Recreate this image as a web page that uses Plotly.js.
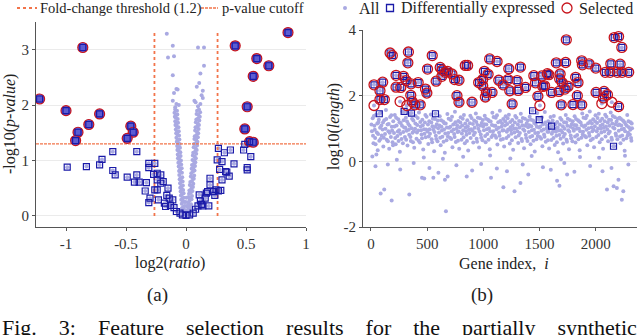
<!DOCTYPE html>
<html>
<head>
<meta charset="utf-8">
<script src="https://cdn.plot.ly/plotly-3.0.1.min.js"></script>
<style>
  html, body { margin: 0; padding: 0; background: #fff; }
  #chart { width: 640px; height: 335px; }
</style>
</head>
<body>
<div id="chart"></div>
<script>
/* global Plotly */

// ---- panel (a): volcano plot, [log2(ratio), -log10(p)] ----
const volcanoAll = [
  [-0.004,0.03],[0.006,0.02],[0.012,0.05],[-0.012,0.06],
  [-0.008,0.10],[-0.018,0.12],[0.010,0.09],[0.020,0.13],
  [-0.012,0.18],[-0.024,0.16],[0.014,0.17],[0.026,0.20],
  [-0.015,0.25],[-0.027,0.27],[0.018,0.24],[0.030,0.28],
  [-0.019,0.33],[-0.031,0.31],[0.022,0.34],[0.035,0.32],
  [-0.020,0.41],[-0.034,0.39],[0.025,0.40],[0.040,0.42],
  [-0.024,0.47],[-0.036,0.49],[0.028,0.46],[0.044,0.49],
  [-0.026,0.55],[-0.040,0.53],[0.032,0.56],[0.047,0.54],
  [-0.028,0.62],[-0.042,0.64],[0.036,0.61],[0.050,0.63],
  [-0.031,0.70],[-0.045,0.68],[0.040,0.71],[0.055,0.69],
  [-0.034,0.78],[-0.048,0.80],[0.044,0.77],[0.058,0.80],
  [-0.036,0.86],[-0.050,0.84],[0.047,0.85],[0.062,0.87],
  [-0.040,0.93],[-0.053,0.95],[0.050,0.92],[0.066,0.94],
  [-0.042,1.00],[-0.056,1.02],[0.054,1.01],[0.068,0.99],
  [-0.045,1.08],[-0.059,1.07],[0.057,1.09],[0.072,1.07],
  [-0.047,1.15],[-0.062,1.17],[0.060,1.14],[0.075,1.16],
  [-0.050,1.23],[-0.064,1.22],[0.064,1.24],[0.079,1.22],
  [-0.052,1.30],[-0.067,1.32],[0.067,1.30],[0.082,1.31],
  [-0.055,1.38],[-0.070,1.37],[0.070,1.39],[0.085,1.37],
  [-0.058,1.45],[-0.072,1.47],[0.073,1.44],[0.088,1.46],
  [-0.060,1.53],[-0.075,1.52],[0.076,1.54],[0.091,1.52],
  [-0.063,1.60],[-0.078,1.62],[0.079,1.60],[0.094,1.61],
  [-0.066,1.68],[-0.080,1.67],[0.082,1.69],[0.097,1.67],
  [-0.069,1.75],[-0.084,1.77],[0.086,1.74],[0.100,1.76],
  [-0.072,1.83],[-0.086,1.82],[0.088,1.84],[0.104,1.82],
  [-0.075,1.90],[-0.090,1.92],[0.092,1.90],[0.108,1.92],
  [-0.16,3.29],[-0.11,3.07],[-0.15,2.86],[-0.10,2.88],[0.10,3.04],[0.15,3.04],
  [0.15,2.71],[0.12,2.57],[-0.11,2.54],[0.11,2.40],[0.09,2.33],[0.14,2.26],
  [-0.08,2.29],[-0.07,2.28],[0.14,2.13],[0.07,2.08],[-0.11,2.08],[-0.08,2.02],
  [-0.06,2.00],[0.10,1.98],[0.12,2.02],[-0.09,1.96],[0.08,2.05],[-0.10,2.22],[0.13,2.18]
];
const volcanoAllOuter = [
  [-0.030,0.07],[0.032,0.08],[-0.034,0.14],[0.038,0.15],[-0.036,0.22],[0.042,0.21],
  [-0.040,0.29],[0.046,0.30],[-0.042,0.37],[0.050,0.36],[-0.045,0.44],[0.054,0.45],
  [-0.048,0.51],[0.058,0.52],[-0.050,0.59],[0.061,0.58],[-0.053,0.66],[0.065,0.67],
  [-0.056,0.74],[0.068,0.73],[-0.058,0.81],[0.071,0.82],[-0.061,0.89],[0.075,0.90],
  [-0.064,0.96],[0.078,0.97],[-0.067,1.04],[0.082,1.04],[-0.069,1.11],[0.085,1.12],
  [-0.072,1.19],[0.089,1.19],[-0.074,1.26],[0.092,1.27],[-0.077,1.34],[0.095,1.34],
  [-0.080,1.41],[0.099,1.42],[-0.082,1.49],[0.102,1.49],[-0.085,1.56],[0.105,1.57],
  [-0.088,1.64],[0.108,1.64],[-0.090,1.71],[0.111,1.72],[-0.093,1.79],[0.115,1.79],
  [-0.096,1.86],[0.118,1.87],
  [0.000,0.10],[0.005,0.18],[-0.002,0.25],[0.004,0.33],[0.000,0.06]
];
const volcanoDiff = [
  [-0.61,1.16],[-0.41,1.16],[-0.70,1.02],[-0.99,0.88],[-0.83,0.89],[-0.72,0.92],
  [-0.61,0.82],[-0.59,0.74],[-0.49,0.70],[-0.41,0.74],[-0.43,0.61],[-0.39,0.61],
  [-0.33,0.60],[-0.34,0.45],[-0.31,0.95],[-0.31,0.87],[-0.30,0.32],[-0.31,0.24],
  [-0.27,0.75],[-0.26,0.47],
  [-0.26,0.95],[-0.24,0.77],[-0.24,0.65],[-0.21,0.59],[-0.24,0.47],[-0.23,0.29],
  [-0.21,0.74],[-0.19,0.62],[-0.18,0.23],[-0.17,0.17],[-0.15,0.50],[-0.16,0.37],
  [-0.14,0.32],[-0.11,0.29],[-0.13,0.19],[-0.10,0.15],[-0.08,0.08],[-0.05,0.05],
  [-0.03,0.02],[0.00,0.01],[0.03,0.02],[0.06,0.05],[0.08,0.12],[0.10,0.18],
  [0.12,0.27],[0.11,0.38],[0.13,0.21],[0.14,0.18],[0.16,0.32],[0.17,0.41],
  [0.18,0.44],[0.20,0.56],[0.20,0.68],[0.23,0.44],[0.24,0.37],[0.19,0.18],[0.25,0.47],
  [0.27,1.22],[0.26,1.01],[0.28,0.84],[0.30,0.98],[0.30,0.65],[0.32,1.14],
  [0.33,0.80],[0.34,0.79],[0.36,0.72],[0.37,1.19],[0.40,0.94],[0.48,1.19],
  [0.49,1.29],[0.51,0.83],[0.51,0.87],[0.54,1.07],[0.27,0.45],[0.29,0.46]
];
const volcanoSelected = [
  [-1.22,2.11],[-0.86,3.04],[-1.00,1.90],[-0.72,1.84],[-0.81,1.65],[-0.90,1.51],
  [-0.92,1.36],[-0.46,1.62],[-0.44,1.51],[-0.49,1.40],[0.85,3.31],[0.41,3.07],
  [0.59,2.84],[0.69,2.71],[0.56,2.52],[0.51,1.97],[0.49,1.57],[0.53,1.34],[0.56,1.33]
];
const foldThreshold = 0.263;   // log2(1.2)
const pCutoff = 1.301;         // -log10(0.05)
const pRange = [0, 3.31];

// ---- panel (b): gene index vs log10(length) ----
const lengthAll = [
  [8,0.92],[15,1.31],[22,0.55],[30,1.08],[37,0.71],[45,1.42],[52,0.88],[60,0.34],[66,1.19],[74,0.63],[81,1.02],[88,1.48],[95,0.79],[12,0.15],[48,0.21],
  [103,0.97],[110,0.45],[118,1.25],[125,0.83],[133,1.56],[140,0.66],[147,1.12],[155,0.92],[162,0.38],[170,1.35],[177,0.74],[185,1.05],[192,0.58],[198,1.22],
  [205,0.86],[212,1.41],[220,0.52],[228,1.09],[235,0.77],[243,1.28],[250,0.95],[257,0.29],[265,1.17],[272,0.68],[280,1.52],[287,0.89],[295,1.03],[230,0.05],
  [302,0.74],[310,1.33],[317,0.93],[325,0.48],[332,1.14],[340,0.81],[347,1.46],[355,0.62],[362,1.01],[370,0.87],[377,1.24],[385,0.41],[392,0.99],[398,1.38],
  [405,0.69],[412,1.11],[420,0.94],[427,1.49],[435,0.57],[442,1.06],[450,0.82],[457,1.27],[465,0.36],[472,0.98],[480,1.18],[487,0.73],[495,1.36],[470,0.12],
  [503,0.91],[510,0.53],[518,1.22],[525,0.84],[533,1.43],[540,0.67],[547,1.07],[555,0.96],[562,0.31],[570,1.29],[577,0.78],[585,1.13],[592,0.61],[598,1.01],
  [605,0.88],[612,1.37],[620,0.49],[627,1.05],[635,0.75],[642,1.21],[650,0.97],[657,0.26],[665,1.15],[672,0.64],[680,1.44],[687,0.86],[695,1.02],[640,0.08],
  [703,0.72],[710,1.26],[717,0.92],[725,0.43],[732,1.12],[740,0.83],[747,1.51],[755,0.59],[762,0.99],[770,0.89],[777,1.23],[785,0.38],[792,1.04],[798,1.34],
  [805,0.66],[812,1.09],[820,0.95],[827,1.41],[835,0.55],[842,1.03],[850,0.81],[857,1.25],[865,0.33],[872,0.97],[880,1.16],[887,0.71],[895,1.32],[820,0.14],
  [903,0.93],[910,0.57],[918,1.24],[925,0.87],[933,1.46],[940,0.69],[947,1.11],[955,0.99],[962,0.42],[970,1.31],[977,0.82],[985,1.17],[992,0.64],[998,1.06],
  [1005,0.95],[1012,1.39],[1020,0.58],[1027,1.12],[1035,0.83],[1042,1.27],[1050,1.01],[1057,0.37],[1065,1.21],[1072,0.74],[1080,1.48],[1087,0.92],[1095,1.08],[1060,0.18],
  [1103,0.79],[1110,1.33],[1117,0.98],[1125,0.51],[1132,1.19],[1140,0.88],[1147,1.54],[1155,0.66],[1162,1.05],[1170,0.94],[1177,1.29],[1185,0.45],[1192,1.09],[1198,1.37],
  [1205,0.71],[1212,1.14],[1220,0.97],[1227,1.42],[1235,0.54],[1242,1.04],[1250,0.84],[1257,1.26],[1265,0.35],[1272,0.99],[1280,1.18],[1287,0.73],[1295,1.33],[1240,0.09],
  [1303,0.92],[1310,0.56],[1318,1.23],[1325,0.86],[1333,1.45],[1340,0.68],[1347,1.10],[1355,0.98],[1362,0.40],[1370,1.30],[1377,0.81],[1385,1.16],[1392,0.62],[1398,1.04],
  [1405,0.89],[1412,1.36],[1420,0.52],[1427,1.07],[1435,0.77],[1442,1.24],[1450,0.96],[1457,0.30],[1465,1.14],[1472,0.67],[1480,1.47],[1487,0.87],[1495,1.03],[1430,0.16],
  [1503,0.74],[1510,1.28],[1517,0.93],[1525,0.46],[1532,1.13],[1540,0.82],[1547,1.50],[1555,0.60],[1562,1.00],[1570,0.90],[1577,1.22],[1585,0.39],[1592,1.02],[1598,1.35],
  [1605,0.65],[1612,1.06],[1620,0.91],[1627,1.38],[1635,0.50],[1642,0.99],[1650,0.78],[1657,1.20],[1665,0.28],[1672,0.94],[1680,1.12],[1687,0.69],[1695,1.27],[1690,0.06],
  [1703,0.88],[1710,0.54],[1718,1.19],[1725,0.83],[1733,1.41],[1740,0.66],[1747,1.08],[1755,0.95],[1762,0.37],[1770,1.26],[1777,0.79],[1785,1.13],[1792,0.61],[1798,1.01],
  [1805,0.93],[1812,1.37],[1820,0.57],[1827,1.10],[1835,0.80],[1842,1.25],[1850,1.00],[1857,0.34],[1865,1.18],[1872,0.72],[1880,1.46],[1887,0.90],[1895,1.05],[1860,0.13],
  [1903,0.77],[1910,1.31],[1917,0.96],[1925,0.49],[1932,1.16],[1940,0.86],[1947,1.52],[1955,0.64],[1962,1.03],[1970,0.92],[1977,1.28],[1985,0.43],[1992,1.07],[1998,1.40],
  [2005,0.74],[2012,1.17],[2020,1.00],[2027,1.45],[2035,0.58],[2042,1.08],[2050,0.88],[2057,1.30],[2065,0.38],[2072,1.02],[2080,1.22],[2087,0.76],[2095,1.36],[2030,0.11],
  [2103,0.97],[2110,0.61],[2118,1.27],[2125,0.90],[2133,1.49],[2140,0.72],[2147,1.15],[2155,1.03],[2162,0.46],[2170,1.34],[2177,0.85],[2185,1.21],[2192,0.67],[2198,1.10],
  [2205,0.93],[2212,1.33],[2220,0.55],[2227,1.09],[2235,0.79],[2242,1.24],[2250,0.99],[2257,0.32],[2265,1.14],[2272,0.70],[2280,1.41],[2287,0.87],[2295,1.04],[2260,0.17],
  [2303,0.82],[2310,1.19],[2317,0.63],[2323,1.01],
  [86,-0.98],[118,-0.86],[184,-1.19],[341,-1.01],[667,-1.52],[454,-0.50],[474,-0.52],[555,-0.50],
  [658,-0.56],[682,-0.46],[1178,-0.79],[1277,-0.91],[1330,-0.66],[1068,-0.50],[1677,-0.74],[1656,-0.59],
  [1745,-0.40],[2100,-0.86],[2159,-0.76],[2188,-0.81],[2232,-1.17],[2245,-0.91],[2202,-0.56],[852,-0.46],
  [40,-0.15],[150,-0.10],[260,-0.25],[380,-0.05],[520,-0.20],[600,-0.35],[760,-0.12],[900,-0.28],
  [980,-0.08],[1120,-0.22],[1210,-0.30],[1350,-0.10],[1400,-0.40],[1530,-0.18],[1600,-0.26],[1720,-0.05],
  [1810,-0.32],[1950,-0.14],[2060,-0.30],[2140,-0.20],[2290,-0.10]
];
const lengthAllDense = [
  [4,1.12],[18,0.78],[26,1.38],[34,0.96],[41,0.52],[56,1.15],[63,0.83],[70,1.27],[85,0.68],[92,1.09],
  [107,1.18],[114,0.72],[129,0.99],[136,1.29],[151,0.61],[158,1.14],[166,0.87],[181,1.40],[188,0.94],[196,0.49],
  [209,1.06],[216,0.71],[224,1.33],[239,0.91],[246,0.62],[254,1.19],[261,0.84],[276,1.08],[284,0.55],[291,1.25],
  [306,1.02],[313,0.66],[321,1.21],[336,0.96],[344,1.08],[351,0.74],[366,1.30],[374,0.58],[381,0.92],[395,1.15],
  [409,0.88],[416,1.32],[424,0.63],[439,1.20],[446,0.95],[454,0.70],[461,1.10],[476,0.84],[484,1.41],[491,0.97],
  [507,1.12],[514,0.76],[522,0.98],[537,1.18],[544,0.58],[551,1.30],[566,0.89],[574,1.05],[581,0.68],[595,1.24],
  [609,1.09],[616,0.72],[624,1.25],[631,0.94],[646,0.60],[653,1.16],[661,0.85],[676,1.03],[684,0.76],[691,1.30],
  [707,1.05],[714,0.68],[721,1.36],[736,0.97],[744,0.74],[751,1.19],[766,1.10],[774,0.63],[781,0.91],[795,1.18],
  [809,0.85],[816,1.30],[824,0.73],[839,1.15],[846,0.92],[854,0.62],[861,1.07],[876,0.86],[884,1.39],[891,0.98],
  [907,1.14],[914,0.80],[922,1.02],[937,1.20],[944,0.60],[951,1.33],[966,0.91],[974,1.09],[981,0.72],[995,1.26],
  [1009,1.13],[1016,0.77],[1024,1.30],[1031,0.98],[1046,0.66],[1053,1.22],[1061,0.92],[1076,1.11],[1084,0.80],[1091,1.35],
  [1107,1.08],[1114,0.72],[1121,1.40],[1136,1.02],[1144,0.78],[1151,1.23],[1166,1.16],[1174,0.68],[1181,0.95],[1195,1.22],
  [1209,0.90],[1216,1.31],[1224,0.77],[1239,1.20],[1246,0.95],[1254,0.64],[1261,1.09],[1276,0.88],[1284,1.38],[1291,1.00],
  [1307,1.12],[1314,0.79],[1322,1.03],[1337,1.21],[1344,0.62],[1351,1.32],[1366,0.93],[1374,1.08],[1381,0.71],[1395,1.24],
  [1409,1.10],[1416,0.74],[1424,1.27],[1431,0.95],[1446,0.63],[1453,1.17],[1461,0.86],[1476,1.05],[1484,0.77],[1491,1.29],
  [1507,1.06],[1514,0.69],[1521,1.34],[1536,0.97],[1544,0.75],[1551,1.18],[1566,1.09],[1574,0.64],[1581,0.90],[1595,1.16],
  [1609,0.84],[1616,1.24],[1624,0.71],[1639,1.13],[1646,0.90],[1654,0.58],[1661,1.03],[1676,0.80],[1684,1.32],[1691,0.95],
  [1707,1.07],[1714,0.75],[1722,0.99],[1737,1.18],[1744,0.60],[1751,1.30],[1766,0.90],[1774,1.05],[1781,0.70],[1795,1.22],
  [1809,1.11],[1816,0.76],[1824,1.29],[1831,0.99],[1846,0.67],[1853,1.21],[1861,0.92],[1876,1.10],[1884,0.82],[1891,1.33],
  [1907,1.09],[1914,0.73],[1921,1.39],[1936,1.01],[1944,0.78],[1951,1.22],[1966,1.15],[1974,0.69],[1981,0.96],[1995,1.21],
  [2009,0.92],[2016,1.32],[2024,0.80],[2039,1.23],[2046,0.99],[2054,0.67],[2061,1.12],[2076,0.91],[2084,1.42],[2091,1.06],
  [2107,1.18],[2114,0.85],[2122,1.08],[2137,1.26],[2144,0.66],[2151,1.38],[2166,1.00],[2174,1.13],[2181,0.78],[2195,1.30],
  [2209,1.12],[2216,0.76],[2224,1.29],[2231,0.98],[2246,0.66],[2253,1.20],[2261,0.92],[2276,1.08],[2284,0.79],[2291,1.22],
  [2307,0.96],[2314,0.71],[2320,1.15]
];
const lengthDiff = [
  [74,1.45],[295,1.52],[360,1.47],[574,1.45],[1438,1.54],[1497,1.27],[1607,1.07],[2158,0.46]
];
const lengthSelectedDiff = [
  [27,2.33],[80,2.15],[104,2.41],[80,1.88],[119,1.88],[170,3.30],[190,3.22],[223,2.62],[223,2.26],
  [265,2.25],[289,2.59],[313,2.46],[333,3.33],[328,3.00],[357,2.36],[354,2.01],[366,1.82],[390,1.72],
  [420,2.40],[438,1.72],[503,2.81],[545,3.22],[485,2.20],[497,2.08],[580,2.44],[616,2.86],[634,2.78],
  [631,2.59],[661,2.71],[681,2.74],[720,2.66],[744,2.49],[765,2.00],[783,1.80],[783,2.47],[839,2.92],
  [860,2.92],[899,1.80],[958,2.40],[994,2.49],[994,2.30],[1009,2.74],[1042,2.65],[1056,3.12],[1018,1.96],
  [1027,2.10],[1077,2.10],[1122,3.04],[1137,2.47],[1176,2.33],[1220,2.49],[1226,2.82],[1235,2.15],
  [1256,1.75],[1301,2.46],[1310,2.16],[1330,2.87],[1375,2.25],[1449,2.61],[1464,2.39],[1485,1.98],
  [1520,2.60],[1529,2.28],[1545,2.30],[1569,2.67],[1583,2.64],[1607,2.10],[1649,3.00],[1679,2.51],
  [1683,2.66],[1672,2.13],[1693,1.72],[1702,2.39],[1726,2.20],[1732,3.01],[1738,3.70],[1753,2.28],
  [1797,1.73],[1821,2.56],[1842,2.40],[1836,2.00],[1875,1.72],[1875,3.06],[1881,2.94],[1940,2.97],
  [2000,2.84],[2003,2.10],[2069,1.93],[2074,2.13],[2085,2.71],[2104,2.03],[2127,2.71],[2134,2.97],
  [2164,3.77],[2203,3.80],[2232,3.47],[2192,2.71],[2234,2.71],[2217,2.96],[2293,2.71],[2203,1.67]
];
const lengthSelectedOnly = [
  [27,1.70],[259,1.82],[319,1.70],[1503,1.70],[2054,1.76],[2143,1.80]
];

// ---- ticks / labels ----
const aTickX = [-1, -0.5, 0, 0.5, 1];
const aTickXText = ["-1", "-0.5", "0", "0.5", "1"];
const aTickY = [0, 1, 2, 3];
const bTickX = [0, 500, 1000, 1500, 2000];
const bTickY = [-2, 0, 2, 4];
const bTickYText = ["-2", "0", "2", "4"];
const legendA = ["Fold-change threshold (1.2)", "p-value cutoff"];
const legendB = ["All", "Differentially expressed", "Selected"];
const GAP = "\u00a0\u00a0\u00a0\u00a0";
const caption = ["Fig.", "3:", "Feature", "selection", "results", "for", "the", "partially", "synthetic"].join(GAP);

const W = 640, H = 335;
const SERIF = "'Liberation Serif', 'Times New Roman', serif";
const LAV = "#a9a9e2";
const NAVY = "#1a1aa8";
const RED = "#c8141c";
const ORANGE = "#f2744a";

const xs = (arr) => arr.map((p) => p[0]);
const ys = (arr) => arr.map((p) => p[1]);
const px = (x) => x / W;
const py = (y) => 1 - y / H;

const aAll = volcanoAll.concat(volcanoAllOuter, volcanoDiff, volcanoSelected);
const bAll = lengthAll.concat(lengthAllDense, lengthDiff, lengthSelectedDiff, lengthSelectedOnly);
const bDiff = lengthDiff.concat(lengthSelectedDiff);
const bSel = lengthSelectedDiff.concat(lengthSelectedOnly);
const aSquares = volcanoDiff.concat(volcanoSelected);

const traces = [
  // panel (a)
  {
    x: xs(aAll), y: ys(aAll), xaxis: "x", yaxis: "y", type: "scatter", mode: "markers",
    marker: { color: LAV, size: 4 }, showlegend: false, hoverinfo: "skip",
  },
  {
    x: [-foldThreshold, -foldThreshold, null, foldThreshold, foldThreshold],
    y: [pRange[0], pRange[1], null, pRange[0], pRange[1]],
    xaxis: "x", yaxis: "y", type: "scatter", mode: "lines",
    line: { color: ORANGE, width: 1.8, dash: "dot" }, showlegend: false, hoverinfo: "skip",
  },
  {
    x: [-1.25, 1.0], y: [pCutoff, pCutoff], xaxis: "x", yaxis: "y", type: "scatter", mode: "lines",
    line: { color: ORANGE, width: 1.4, dash: "3px,1px" }, showlegend: false, hoverinfo: "skip",
  },
  {
    x: xs(volcanoSelected), y: ys(volcanoSelected), xaxis: "x", yaxis: "y", type: "scatter", mode: "markers",
    marker: { symbol: "circle", color: "#5c5cd2", size: 10, line: { color: RED, width: 1.2 } },
    showlegend: false, hoverinfo: "skip",
  },
  {
    x: xs(aSquares), y: ys(aSquares), xaxis: "x", yaxis: "y", type: "scatter", mode: "markers",
    marker: { symbol: "square-open", color: NAVY, size: 6, line: { color: NAVY, width: 1.2 } },
    showlegend: false, hoverinfo: "skip",
  },
  // panel (b)
  {
    x: xs(bAll), y: ys(bAll), xaxis: "x2", yaxis: "y2", type: "scatter", mode: "markers",
    marker: { color: LAV, size: 4 }, showlegend: false, hoverinfo: "skip",
  },
  {
    x: xs(bDiff), y: ys(bDiff), xaxis: "x2", yaxis: "y2", type: "scatter", mode: "markers",
    marker: { symbol: "square-open", color: NAVY, size: 6, line: { color: NAVY, width: 1.2 } },
    showlegend: false, hoverinfo: "skip",
  },
  {
    x: xs(bSel), y: ys(bSel), xaxis: "x2", yaxis: "y2", type: "scatter", mode: "markers",
    marker: { symbol: "circle-open", color: RED, size: 10, line: { color: RED, width: 1.3 } },
    showlegend: false, hoverinfo: "skip",
  },
];

const axisBase = {
  showline: true, linecolor: "#555", linewidth: 1,
  ticks: "outside", ticklen: 3, tickcolor: "#555",
  tickfont: { family: SERIF, size: 15, color: "#333" },
  zeroline: false, tickmode: "array",
};

const text = (t, x, y, size, extra) => Object.assign({
  text: t, x: px(x), y: py(y), xref: "paper", yref: "paper", showarrow: false,
  xanchor: "center", yanchor: "middle",
  font: { family: SERIF, size, color: "#222" },
}, extra || {});

const annotations = [
  text("-log10(<i>p-value</i>)", 10, 124, 16, { textangle: -90 }),
  text("log2(<i>ratio</i>)", 170, 263, 16),
  text("(a)", 157, 295, 19),
  text("log10(<i>length</i>)", 334, 127, 16, { textangle: -90 }),
  text("Gene index,\u00a0\u00a0<i>i</i>", 504, 263, 16),
  text("(b)", 482, 295, 19),
  text(legendA[0], 38, 8, 14.5, { xanchor: "left" }),
  text(legendA[1], 220, 8, 14.5, { xanchor: "left" }),
  text(legendB[0], 357, 8, 16, { xanchor: "left" }),
  text(legendB[1], 399, 8, 16, { xanchor: "left" }),
  text(legendB[2], 577, 8, 16, { xanchor: "left" }),
  text(caption, 0, 327, 22, { xanchor: "left", font: { family: SERIF, size: 22, color: "#111" } }),
];

const shapes = [
  { type: "line", xref: "paper", yref: "paper", x0: px(17), x1: px(37), y0: py(8), y1: py(8),
    line: { color: ORANGE, width: 1.8, dash: "dot" } },
  { type: "line", xref: "paper", yref: "paper", x0: px(201), x1: px(218), y0: py(8), y1: py(8),
    line: { color: ORANGE, width: 1.4, dash: "3px,1px" } },
  { type: "circle", xref: "paper", yref: "paper", xsizemode: "pixel", ysizemode: "pixel",
    xanchor: px(345), yanchor: py(8), x0: -2, x1: 2, y0: -2, y1: 2,
    fillcolor: LAV, line: { width: 0 } },
  { type: "rect", xref: "paper", yref: "paper", xsizemode: "pixel", ysizemode: "pixel",
    xanchor: px(390), yanchor: py(8), x0: -3.5, x1: 3.5, y0: -3.5, y1: 3.5,
    line: { color: NAVY, width: 1.3 } },
  { type: "circle", xref: "paper", yref: "paper", xsizemode: "pixel", ysizemode: "pixel",
    xanchor: px(567), yanchor: py(8), x0: -5, x1: 5, y0: -5, y1: 5,
    line: { color: RED, width: 1.3 } },
];

const layout = {
  width: W, height: H,
  margin: { l: 0, r: 0, t: 0, b: 0 },
  paper_bgcolor: "#fff", plot_bgcolor: "#fff",
  showlegend: false,
  xaxis: Object.assign({}, axisBase, {
    domain: [px(36), px(306)], range: [-1.25, 1.0], anchor: "y",
    tickvals: aTickX, ticktext: aTickXText, showgrid: false,
  }),
  yaxis: Object.assign({}, axisBase, {
    domain: [py(227), py(22)], range: [-0.2, 3.5], anchor: "x",
    tickvals: aTickY, showgrid: true, gridcolor: "#ebebeb",
  }),
  xaxis2: Object.assign({}, axisBase, {
    domain: [px(363), px(637)], range: [-71, 2367], anchor: "y2",
    tickvals: bTickX, showgrid: false,
  }),
  yaxis2: Object.assign({}, axisBase, {
    domain: [py(227), py(30)], range: [-2, 4], anchor: "x2",
    tickvals: bTickY, ticktext: bTickYText, showgrid: true, gridcolor: "#ebebeb",
  }),
  annotations,
  shapes,
};

Plotly.newPlot("chart", traces, layout, { displayModeBar: false, staticPlot: true });
</script>
</body>
</html>
